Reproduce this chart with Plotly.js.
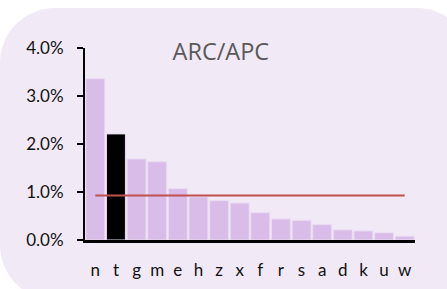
<!DOCTYPE html>
<html><head><meta charset="utf-8">
<script src="https://cdn.plot.ly/plotly-3.0.1.min.js"></script>
<style>
html,body{margin:0;padding:0;background:#fff;width:447px;height:289px;overflow:hidden;}
#bg{position:absolute;left:0;top:8px;width:472px;height:292px;border-radius:55px;background:#f2e9f7;}
#chart{position:absolute;left:0;top:0;width:447px;height:289px;}
</style></head>
<body>
<div id="bg"></div>
<div id="chart"></div>
<script>
const categories = ['n','t','g','m','e','h','z','x','f','r','s','a','d','k','u','w'];
const values = [3.36,2.21,1.69,1.63,1.07,0.90,0.82,0.77,0.57,0.44,0.41,0.32,0.21,0.19,0.15,0.08];
const highlight = 't';
const average = 0.925;
const yTicks = [0,1,2,3,4];
const yTickLabels = ['0.0%','1.0%','2.0%','3.0%','4.0%'];

const barColors = categories.map(c => c === highlight ? '#000000' : '#d9bde8');

const data = [
  {type:'bar', x:categories, y:values, marker:{color:barColors, line:{color:'#eadcf2', width:1}}, hoverinfo:'none'},
  {type:'scatter', mode:'lines', x:[categories[0], categories[categories.length-1]], y:[average, average],
   line:{color:'#c0504d', width:2}, hoverinfo:'none'}
];
const layout = {
  width:447, height:289,
  margin:{l:85, r:32, t:48, b:49},
  paper_bgcolor:'rgba(0,0,0,0)', plot_bgcolor:'rgba(0,0,0,0)',
  showlegend:false, bargap:0.08,
  font:{family:'Lato, sans-serif', color:'#000'},
  title:{text:'ARC/APC', x:0.494, xanchor:'center', y:0.82, yanchor:'middle', xref:'container', yref:'container',
         font:{family:'Open Sans, sans-serif', size:23.5, color:'#595959'}},
  xaxis:{type:'category', range:[-0.5, 15.5], showline:true, linecolor:'#000', linewidth:2.5,
         ticks:'', showgrid:false, zeroline:false, tickfont:{size:17, color:'#111'}, ticklabelstandoff:13, fixedrange:true},
  yaxis:{range:[0,4], tickvals:yTicks, ticktext:yTickLabels, showline:true, linecolor:'#000', linewidth:2,
         ticks:'outside', ticklen:6, tickwidth:1.5, tickcolor:'#000', showgrid:false, zeroline:false,
         tickfont:{size:17, color:'#111'}, ticklabelstandoff:10, fixedrange:true}
};
Plotly.newPlot('chart', data, layout, {displayModeBar:false, staticPlot:true});
</script>
</body></html>
